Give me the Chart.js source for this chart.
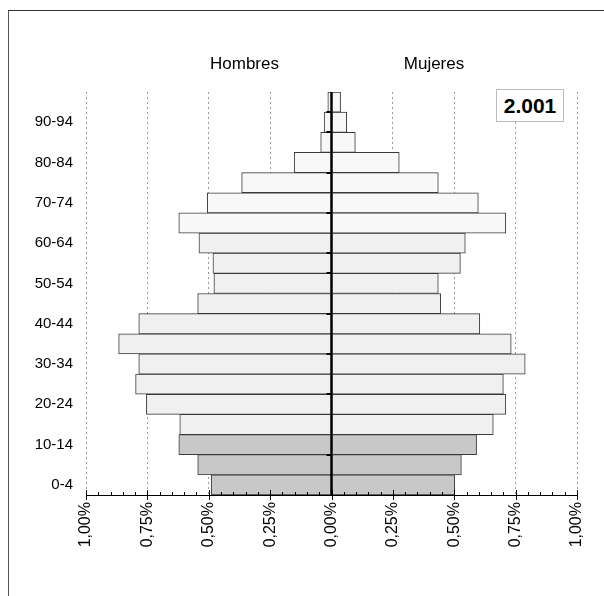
<!DOCTYPE html>
<html>
<head>
<meta charset="utf-8">
<script src="https://cdn.jsdelivr.net/npm/chart.js@4/dist/chart.umd.min.js"></script>
<style>
  html, body { margin: 0; padding: 0; background: #fff; }
  body { width: 604px; height: 596px; position: relative; overflow: hidden; font-family: 'Liberation Sans', Arial, sans-serif; }
  #frame { position: absolute; left: 8px; top: 10px; width: 800px; height: 800px; border-left: 1.5px solid #555; border-top: 1.5px solid #333; }
  #wrap { position: absolute; left: 0; top: 0; width: 604px; height: 596px; }
  .lbl { position: absolute; font-size: 17px; line-height: 17px; color: #000; white-space: nowrap; transform: translateX(-50%); }
  #year { position: absolute; left: 496px; top: 89px; width: 68px; height: 33px; box-sizing: border-box; border: 1px solid #bbb; background: #fff; font-weight: bold; font-size: 21px; line-height: 31px; text-align: center; color: #000; }
</style>
</head>
<body>
<div id="frame"></div>
<div id="wrap"><canvas id="c" width="604" height="596"></canvas></div>
<div class="lbl" style="left:244.5px; top:55px;">Hombres</div>
<div class="lbl" style="left:434px; top:55px;">Mujeres</div>
<div id="year">2.001</div>
<script>
// Age groups (bottom to top)
const ageGroups = ['0-4','5-9','10-14','15-19','20-24','25-29','30-34','35-39','40-44','45-49',
                   '50-54','55-59','60-64','65-69','70-74','75-79','80-84','85-89','90-94','95-99'];
// Percent of total population
const hombres = [0.490, 0.545, 0.622, 0.618, 0.754, 0.798, 0.785, 0.867, 0.785, 0.545,
                 0.479, 0.483, 0.540, 0.622, 0.506, 0.366, 0.152, 0.044, 0.030, 0.015];
const mujeres = [0.502, 0.529, 0.591, 0.659, 0.710, 0.700, 0.789, 0.732, 0.604, 0.445,
                 0.435, 0.525, 0.545, 0.710, 0.598, 0.435, 0.276, 0.097, 0.062, 0.037];
const xTickStep = 0.25;

Chart.defaults.font.family = "'Liberation Sans', Arial, sans-serif";
Chart.defaults.color = '#000';

function fillFor(i) {
  if (i < 3) return '#c8c8c8';
  if (i < 13) return '#f0f0f0';
  return '#f8f8f8';
}

const decor = {
  id: 'decor',
  afterDatasetsDraw(chart) {
    const { ctx, chartArea: a, scales: { x, y } } = chart;
    const x0 = x.getPixelForValue(0);
    ctx.save();
    ctx.strokeStyle = '#000';
    // bottom axis line
    ctx.lineWidth = 1;
    ctx.beginPath();
    ctx.moveTo(a.left, Math.round(a.bottom) + 0.5);
    ctx.lineTo(a.right, Math.round(a.bottom) + 0.5);
    ctx.stroke();
    // major & minor ticks on value axis
    for (let i = -20; i <= 20; i++) {
      const px = Math.round(x.getPixelForValue(i * 0.05)) + 0.5;
      const major = i % 5 === 0;
      ctx.beginPath();
      ctx.moveTo(px, a.bottom - (major ? 5 : 3));
      ctx.lineTo(px, a.bottom + (major ? 5 : 0));
      ctx.stroke();
    }
    // small ticks along the center axis
    const rows = [2, 5, 7, 9, 11, 12, 14, 16, 18, 19];
    ctx.lineWidth = 2;
    rows.forEach(k => {
      const py = Math.round((y.getPixelForValue(k - 1) + y.getPixelForValue(k)) / 2);
      ctx.beginPath();
      ctx.moveTo(x0 - 5, py);
      ctx.lineTo(x0, py);
      ctx.stroke();
    });
    // center line
    ctx.lineWidth = 2;
    ctx.beginPath();
    ctx.moveTo(x0, a.top);
    ctx.lineTo(x0, a.bottom);
    ctx.stroke();
    ctx.restore();
  }
};

new Chart(document.getElementById('c'), {
  type: 'bar',
  data: {
    labels: ageGroups,
    datasets: [
      {
        label: 'Hombres',
        data: hombres.map(v => -v),
        backgroundColor: ageGroups.map((_, i) => fillFor(i)),
        borderColor: '#3a3a3a',
        borderWidth: 1,
        borderSkipped: false,
        barPercentage: 1,
        categoryPercentage: 1
      },
      {
        label: 'Mujeres',
        data: mujeres,
        backgroundColor: ageGroups.map((_, i) => fillFor(i)),
        borderColor: '#3a3a3a',
        borderWidth: 1,
        borderSkipped: false,
        barPercentage: 1,
        categoryPercentage: 1
      }
    ]
  },
  options: {
    indexAxis: 'y',
    responsive: false,
    animation: false,
    events: [],
    layout: { padding: { left: 0, top: 92, right: 27, bottom: 0 } },
    plugins: { legend: { display: false }, tooltip: { enabled: false }, title: { display: false } },
    scales: {
      x: {
        type: 'linear',
        min: -1,
        max: 1,
        stacked: true,
        afterFit(s) { s.height = 101; },
        ticks: {
          stepSize: xTickStep,
          autoSkip: false,
          maxRotation: 90,
          minRotation: 90,
          padding: 7,
          font: { size: 16 },
          color: '#000',
          callback: v => Math.abs(v).toFixed(2).replace('.', ',') + '%'
        },
        grid: {
          drawTicks: false,
          lineWidth: 1,
          color: c => (c.tick && Math.abs(c.tick.value) < 1e-9) ? 'rgba(0,0,0,0)' : '#9a9a9a'
        },
        border: { display: true, color: '#000', width: 1, dash: [2, 3] }
      },
      y: {
        type: 'category',
        reverse: true,
        stacked: true,
        afterFit(s) { s.width = 86; },
        grid: { display: false, drawTicks: false },
        border: { display: false },
        ticks: {
          autoSkip: false,
          padding: 13,
          font: { size: 15 },
          color: '#000',
          callback(v, i) { return i % 2 === 0 ? this.getLabelForValue(v) : ''; }
        }
      }
    }
  },
  plugins: [decor]
});
</script>
</body>
</html>
